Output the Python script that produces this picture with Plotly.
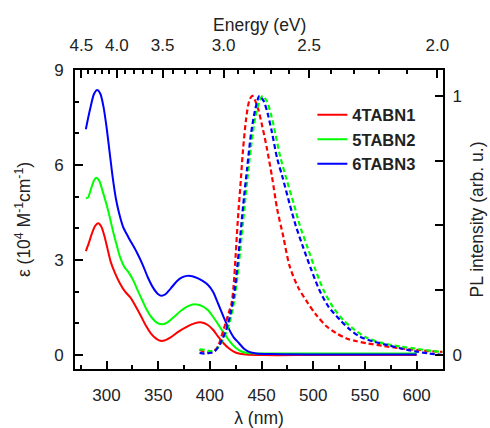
import plotly.graph_objects as go

# ---- absorption spectra (epsilon, 10^4 M^-1 cm^-1) ----
abs_wl_1 = [280, 283, 286, 289, 292, 295, 298, 301, 304, 308, 313, 318, 323, 328, 333, 338,
            343, 348, 352, 356, 362, 370, 378, 385, 392, 398, 403, 408, 413, 418, 423, 428,
            435, 450, 500, 550, 600]
abs_eps_1 = [3.28, 3.55, 3.85, 4.08, 4.16, 4.05, 3.75, 3.35, 2.95, 2.6, 2.26, 2.0, 1.82, 1.55, 1.25, 0.93,
             0.68, 0.52, 0.45, 0.46, 0.56, 0.75, 0.9, 1.0, 1.03, 0.95, 0.8, 0.58, 0.38, 0.22, 0.11, 0.05,
             0.02, 0.0, 0.0, 0.0, 0.0]

abs_wl_2 = [280, 282, 285, 288, 290, 293, 296, 300, 303, 306, 310, 313, 317, 322, 326, 330,
            335, 339, 344, 349, 354, 359, 365, 372, 380, 387, 393, 398, 403, 408, 412, 416,
            420, 425, 430, 435, 445, 500, 550, 600]
abs_eps_2 = [4.95, 4.97, 5.25, 5.52, 5.6, 5.5, 5.2, 4.75, 4.37, 3.95, 3.45, 3.1, 2.8, 2.58, 2.35, 2.05,
             1.7, 1.42, 1.17, 1.02, 0.97, 1.03, 1.2, 1.4, 1.56, 1.6, 1.54, 1.42, 1.21, 0.97, 0.77, 0.58,
             0.4, 0.23, 0.12, 0.07, 0.05, 0.05, 0.05, 0.05]

abs_wl_3 = [280, 284, 288, 291, 294, 297, 300, 303, 306, 309, 312, 316, 321, 329, 335, 340,
            345, 350, 353, 357, 362, 368, 373, 378, 383, 388, 393, 398, 403, 408, 413, 418,
            423, 428, 433, 438, 445, 460, 500, 550, 600]
abs_eps_3 = [7.13, 7.75, 8.25, 8.37, 8.25, 7.85, 7.2, 6.4, 5.6, 4.95, 4.5, 4.05, 3.73, 3.26, 2.85, 2.45,
             2.13, 1.92, 1.87, 1.92, 2.1, 2.33, 2.45, 2.5, 2.49, 2.43, 2.34, 2.22, 2.0, 1.62, 1.22, 0.85,
             0.56, 0.38, 0.2, 0.1, 0.05, 0.03, 0.02, 0.02, 0.02]

# ---- normalised photoluminescence spectra ----
pl_wl_1 = [390, 395, 400, 404, 408, 411, 415, 418, 421, 423, 425, 427, 430, 432, 435, 438, 441,
           444, 447, 450, 455, 460, 465, 471, 477, 485, 494, 503, 513, 522, 532, 542, 552, 568,
           584, 600, 616, 625]
pl_i_1 = [0.02, 0.012, 0.01, 0.015, 0.035, 0.07, 0.12, 0.16, 0.2, 0.27, 0.39, 0.52, 0.68, 0.79, 0.91, 0.98, 1.0,
          0.98, 0.945, 0.895, 0.8, 0.69, 0.565, 0.457, 0.345, 0.264, 0.205, 0.154, 0.11, 0.085, 0.064, 0.053, 0.045, 0.035,
          0.026, 0.02, 0.014, 0.012]

pl_wl_2 = [390, 395, 400, 404, 408, 412, 416, 420, 424, 428, 432, 436, 440, 444, 448, 451, 455,
           459, 463, 468, 474, 481, 487, 494, 502, 510, 519, 529, 539, 552, 565, 584, 600, 616, 625]
pl_i_2 = [0.022, 0.02, 0.015, 0.018, 0.03, 0.055, 0.09, 0.14, 0.22, 0.35, 0.51, 0.67, 0.81, 0.92, 0.98, 1.0, 0.98,
          0.93, 0.86, 0.766, 0.68, 0.585, 0.5, 0.42, 0.33, 0.25, 0.185, 0.135, 0.1, 0.066, 0.048, 0.033, 0.024, 0.015, 0.012]

pl_wl_3 = [390, 395, 400, 404, 408, 412, 416, 420, 424, 428, 432, 436, 440, 444, 448, 452, 456,
           460, 465, 470, 477, 483, 490, 498, 506, 515, 526, 535, 545, 558, 571, 585, 600, 612, 625]
pl_i_3 = [0.008, 0.005, 0.008, 0.012, 0.03, 0.06, 0.1, 0.16, 0.25, 0.4, 0.57, 0.72, 0.86, 0.95, 1.0, 0.98, 0.93,
          0.86, 0.76, 0.69, 0.585, 0.5, 0.418, 0.33, 0.25, 0.185, 0.135, 0.1, 0.071, 0.052, 0.039, 0.025, 0.013, 0.006, 0.0]

names = ["4TABN1", "5TABN2", "6TABN3"]
colors = ["#ff0000", "#00ff00", "#0000ff"]

# top axis: photon energy (eV) placed at lambda = 1240 / E
energy_major = [4.5, 4.0, 3.5, 3.0, 2.5, 2.0]
energy_minor = [4.4, 4.3, 4.2, 4.1, 3.9, 3.8, 3.7, 3.6, 3.4, 3.3, 3.2, 3.1,
                2.9, 2.8, 2.7, 2.6, 2.4, 2.3, 2.2, 2.1]

FONT = "Liberation Sans, Arial, sans-serif"
TICK_SIZE = 17
TITLE_SIZE = 17.5

fig = go.Figure()

abs_sets = [(abs_wl_1, abs_eps_1), (abs_wl_2, abs_eps_2), (abs_wl_3, abs_eps_3)]
pl_sets = [(pl_wl_1, pl_i_1), (pl_wl_2, pl_i_2), (pl_wl_3, pl_i_3)]

for (wl, eps), name, c in zip(abs_sets, names, colors):
    fig.add_trace(go.Scatter(x=wl, y=eps, mode="lines", name=name,
                             line=dict(color=c, width=2, shape="spline", smoothing=0.8),
                             xaxis="x", yaxis="y"))

for (wl, inten), name, c in zip(pl_sets, names, colors):
    fig.add_trace(go.Scatter(x=wl, y=inten, mode="lines", name=name, showlegend=False,
                             line=dict(color=c, width=2.2, dash="5px,3px", shape="spline", smoothing=0.8),
                             xaxis="x2", yaxis="y2"))

xr = [269.5, 625.5]
axis_common = dict(showline=True, linewidth=2, linecolor="black", ticks="inside",
                   tickwidth=2, tickcolor="black", ticklen=8, showgrid=False, zeroline=False,
                   automargin=False,
                   tickfont=dict(family=FONT, size=TICK_SIZE, color="#222"))


def minor_ticks(vals, length=4):
    return dict(tickmode="array", tickvals=vals, ticks="inside",
                ticklen=length, tickwidth=2, tickcolor="black")


fig.update_layout(
    width=490, height=428,
    margin=dict(l=75, r=47, t=70, b=59),
    paper_bgcolor="white", plot_bgcolor="white",
    font=dict(family=FONT, color="#222"),
    xaxis=dict(range=xr, tickmode="array", tickvals=[300, 350, 400, 450, 500, 550, 600],
               minor=minor_ticks([275, 325, 375, 425, 475, 525, 575, 625]),
               ticklabelstandoff=10,
               title=dict(text="λ (nm)", font=dict(family=FONT, size=TITLE_SIZE), standoff=11),
               **axis_common),
    xaxis2=dict(range=xr, overlaying="x", side="top", anchor="y2", tickmode="array",
                tickvals=[1240 / e for e in energy_major],
                ticktext=[f"{e:.1f}" for e in energy_major],
                minor=minor_ticks([1240 / e for e in energy_minor]),
                ticklabelstandoff=10,
                **axis_common),
    yaxis=dict(range=[-0.44, 9.0], tickmode="array", tickvals=[0, 3, 6, 9],
               minor=minor_ticks([1, 2, 4, 5, 7, 8]),
               ticklabelstandoff=6,
               title=dict(text="ε (10<sup>4</sup> M<sup>-1</sup>cm<sup>-1</sup>)",
                          font=dict(family=FONT, size=TITLE_SIZE), standoff=19),
               **axis_common),
    yaxis2=dict(range=[-0.054, 1.10], overlaying="y", side="right", anchor="x2", tickmode="array",
                tickvals=[0, 1],
                minor=minor_ticks([0.25, 0.5, 0.75], 8),
                ticklabelstandoff=4,
                title=dict(text="PL intensity (arb. u.)", font=dict(family=FONT, size=TITLE_SIZE), standoff=10),
                **axis_common),
    annotations=[dict(text="Energy (eV)", xref="paper", yref="paper", x=0.5, y=1.15,
                      xanchor="center", yanchor="middle", showarrow=False,
                      font=dict(family=FONT, size=TITLE_SIZE, color="#222"))],
    legend=dict(x=0.645, y=0.908, xanchor="left", yanchor="top",
                bgcolor="rgba(0,0,0,0)", borderwidth=0,
                font=dict(family=FONT, size=16.5, color="#222", weight="bold"),
                tracegroupgap=0),
    showlegend=True,
)

fig.write_html("out.html")
